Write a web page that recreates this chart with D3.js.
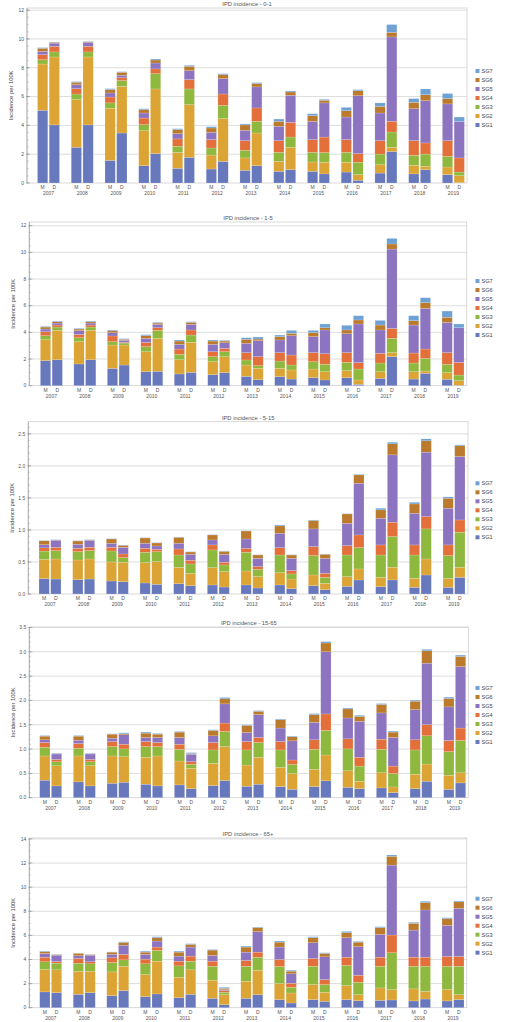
<!DOCTYPE html>
<html><head><meta charset="utf-8">
<script src="https://cdn.jsdelivr.net/npm/d3@7"></script>
<style>body{margin:0;background:#fff;} svg{display:block;font-family:"Liberation Sans",Arial,sans-serif;}</style>
</head><body><svg id="c" width="507" height="1022"></svg>
<script>
const years = [2007,2008,2009,2010,2011,2012,2013,2014,2015,2016,2017,2018,2019];
const sexes = ["M","D"];
const seriesNames = ["SG1","SG2","SG3","SG4","SG5","SG6","SG7"];
const seriesColors = ["#6878bc","#dca435","#8fb83e","#e3703a","#8c74c0","#bb7a2c","#6ea2d4"];
const panelTitles = ["IPD incidence - 0-1","IPD incidence - 1-5","IPD incidence - 5-15","IPD incidence - 15-65","IPD incidence - 65+"];
const yTickSteps = [2,2,0.5,0.5,2];
const yAxisLabel = "Incidence per 100K";

// order of each array: 2007 M, 2007 D, 2008 M, 2008 D, ... 2019 D
// Panel 1: age 0-1
const a01_SG1 = [5.05,4.03,2.48,4.03,1.57,3.47,1.20,2.04,1.02,1.78,0.97,1.50,0.88,1.20,0.81,0.93,0.81,0.63,0.76,0.19,0.69,2.18,0.63,0.93,0.58,0.02];
const a01_SG2 = [3.21,4.72,3.31,4.72,3.62,3.24,2.43,4.49,1.11,3.66,0.97,2.97,0.86,2.27,0.69,1.55,0.65,0.81,0.68,0.39,0.58,0.30,0.60,0.23,0.53,0.49];
const a01_SG3 = [0.30,0.35,0.39,0.35,0.37,0.40,0.42,1.06,0.42,1.09,0.49,0.92,0.53,0.81,0.63,0.71,0.67,0.67,0.69,0.86,0.74,1.06,0.69,0.85,0.74,0.25];
const a01_SG4 = [0.35,0.39,0.37,0.39,0.41,0.20,0.46,0.33,0.51,0.65,0.58,0.79,0.67,0.93,0.81,1.02,0.88,1.08,0.88,0.60,0.93,0.74,1.02,0.77,1.09,0.98];
const a01_SG5 = [0.23,0.22,0.28,0.28,0.28,0.17,0.35,0.41,0.37,0.62,0.51,1.07,0.72,1.46,1.00,1.88,1.27,2.37,1.57,4.02,1.92,5.86,2.22,2.94,2.55,2.54];
const a01_SG6 = [0.21,0.06,0.16,0.04,0.23,0.21,0.23,0.21,0.27,0.30,0.30,0.27,0.37,0.23,0.34,0.23,0.40,0.18,0.44,0.35,0.46,0.32,0.44,0.41,0.37,0.00];
const a01_SG7 = [0.05,0.02,0.05,0.02,0.07,0.04,0.07,0.07,0.07,0.07,0.09,0.07,0.07,0.07,0.16,0.07,0.13,0.07,0.23,0.07,0.24,0.54,0.26,0.40,0.35,0.30];
// Panel 2: age 1-5
const a15_SG1 = [1.88,1.95,1.63,1.95,1.30,1.55,1.05,1.08,0.88,1.00,0.83,0.98,0.70,0.45,0.68,0.50,0.60,0.43,0.60,0.10,0.55,2.18,0.50,0.93,0.48,0.03];
const a15_SG2 = [1.57,2.20,1.67,2.20,1.75,1.50,1.50,2.47,1.07,2.25,0.97,1.20,0.85,0.85,0.62,0.68,0.65,0.62,0.53,0.33,0.50,0.30,0.55,0.17,0.50,0.35];
const a15_SG3 = [0.30,0.25,0.30,0.25,0.25,0.15,0.38,0.60,0.40,0.55,0.38,0.37,0.38,0.20,0.55,0.37,0.55,0.55,0.62,0.82,0.65,1.07,0.65,0.95,0.62,0.42];
const a15_SG4 = [0.30,0.15,0.25,0.15,0.43,0.05,0.32,0.20,0.40,0.38,0.37,0.25,0.55,0.68,0.63,0.75,0.68,0.80,0.73,0.48,0.73,0.75,0.75,0.70,0.88,0.95];
const a15_SG5 = [0.20,0.15,0.28,0.15,0.25,0.15,0.30,0.25,0.35,0.42,0.55,0.42,0.70,1.20,0.95,1.45,1.20,1.78,1.42,2.90,1.75,5.95,2.10,3.05,2.27,2.60];
const a15_SG6 = [0.15,0.10,0.12,0.10,0.15,0.08,0.20,0.10,0.25,0.15,0.25,0.13,0.30,0.12,0.25,0.18,0.30,0.17,0.28,0.30,0.37,0.38,0.33,0.43,0.38,0.00];
const a15_SG7 = [0.05,0.05,0.05,0.05,0.05,0.05,0.08,0.05,0.08,0.05,0.08,0.05,0.12,0.15,0.12,0.22,0.17,0.28,0.35,0.32,0.35,0.42,0.37,0.37,0.47,0.28];
// Panel 3: age 5-15
const a515_SG1 = [.24,.234,.224,.234,.203,.193,.172,.151,.161,.13,.141,.109,.141,.094,.141,.083,.13,.068,.12,.219,.115,.219,.104,.297,.104,.26];
const a515_SG2 = [.30,.313,.307,.313,.297,.302,.318,.354,.256,.193,.27,.24,.218,.177,.192,.151,.167,.099,.151,.172,.145,.198,.141,.25,.141,.157];
const a515_SG3 = [.13,.13,.13,.13,.172,.073,.161,.156,.192,.146,.277,.104,.292,.114,.276,.079,.302,.093,.338,.333,.349,.479,.364,.469,.354,.547];
const a515_SG4 = [.05,.052,.053,.052,.057,.057,.063,.037,.094,.057,.078,.042,.063,.042,.115,.052,.141,.063,.146,.198,.157,.224,.157,.192,.167,.192];
const a515_SG5 = [.05,.11,.062,.11,.063,.104,.078,.052,.089,.094,.078,.125,.145,.13,.224,.192,.276,.234,.349,.807,.416,1.052,.494,1.006,.573,.99];
const a515_SG6 = [.06,.005,.052,.005,.067,.031,.083,.047,.093,.036,.078,.047,.125,.052,.115,.052,.13,.063,.146,.13,.131,.172,.146,.177,.156,.167];
const a515_SG7 = [.005,.005,.005,.005,.005,.005,.005,.005,.005,.005,.005,.005,.005,.005,.015,.005,.01,.005,.005,.01,.026,.026,.026,.031,.021,.015];
// Panel 4: age 15-65
const a1565_SG1 = [.36,.242,.325,.242,.297,.318,.277,.242,.263,.187,.249,.353,.235,.277,.228,.173,.228,.346,.214,.187,.201,.104,.187,.339,.173,.304];
const a1565_SG2 = [.498,.415,.533,.415,.561,.526,.553,.616,.491,.415,.456,.698,.436,.553,.394,.325,.353,.532,.339,.152,.311,.117,.297,.353,.29,.208];
const a1565_SG3 = [.179,.083,.159,.083,.193,.159,.221,.193,.242,.083,.277,.311,.311,.304,.36,.187,.415,.505,.45,.311,.484,.277,.498,.581,.484,.664];
const a1565_SG4 = [.097,.048,.096,.048,.104,.097,.104,.083,.104,.055,.152,.173,.173,.104,.173,.09,.194,.339,.207,.18,.207,.152,.208,.228,.229,.256];
const a1565_SG5 = [.056,.111,.07,.111,.069,.193,.083,.104,.138,.152,.138,.394,.187,.47,.277,.394,.359,1.279,.429,.74,.54,.588,.622,1.265,.691,1.265];
const a1565_SG6 = [.076,.005,.083,.005,.083,.021,.09,.069,.111,.014,.111,.104,.145,.069,.172,.083,.159,.18,.187,.104,.173,.111,.173,.256,.173,.208];
const a1565_SG7 = [.013,.01,.013,.01,.007,.021,.021,.014,.013,.021,.014,.028,.014,.014,.014,.014,.021,.028,.02,.02,.02,.02,.021,.028,.028,.027];
// Panel 5: age 65+
const a65_SG1 = [1.31,1.25,1.11,1.25,1.0,1.42,.92,1.14,.83,1.11,.78,.25,.78,1.08,.67,.39,.67,.53,.67,.58,.61,.64,.56,.72,.56,.67];
const a65_SG2 = [1.86,1.89,1.92,1.78,1.97,2.02,1.83,2.72,1.7,2.03,1.5,.83,1.41,2.03,1.33,.83,1.25,.75,1.16,.5,1.03,.86,1.0,.64,.94,.41];
const a65_SG3 = [.64,.55,.66,.61,.78,.53,.89,.89,.94,.72,1.16,.2,1.25,1.08,1.42,.47,1.52,.64,1.67,1.03,1.8,3.06,1.88,2.08,1.94,2.36];
const a65_SG4 = [.38,.14,.39,.17,.39,.45,.39,.28,.39,.42,.42,.14,.48,.42,.58,.34,.64,.41,.69,.58,.75,1.47,.75,.75,.81,.81];
const a65_SG5 = [.31,.53,.23,.55,.28,.77,.39,.5,.42,.75,.47,.08,.69,1.7,1.03,.78,1.31,1.89,1.62,2.37,1.89,5.8,2.25,3.92,2.58,4.0];
const a65_SG6 = [.14,.04,.20,.04,.19,.23,.19,.28,.33,.22,.45,.11,.42,.33,.41,.22,.42,.28,.41,.38,.56,.73,.56,.61,.56,.53];
const a65_SG7 = [.05,.02,.02,.02,.02,.05,.08,.08,.08,.06,.05,.08,.08,.05,.09,.08,.08,.06,.11,.06,.08,.11,.08,.11,.08,.08];

const panelSeries = [
  [a01_SG1,a01_SG2,a01_SG3,a01_SG4,a01_SG5,a01_SG6,a01_SG7],
  [a15_SG1,a15_SG2,a15_SG3,a15_SG4,a15_SG5,a15_SG6,a15_SG7],
  [a515_SG1,a515_SG2,a515_SG3,a515_SG4,a515_SG5,a515_SG6,a515_SG7],
  [a1565_SG1,a1565_SG2,a1565_SG3,a1565_SG4,a1565_SG5,a1565_SG6,a1565_SG7],
  [a65_SG1,a65_SG2,a65_SG3,a65_SG4,a65_SG5,a65_SG6,a65_SG7]
];

// layout (pixels)
const layout = [
  {top:8,     base:183,   left:27,   right:467,   ymax:12.15, c0:48.5, c1:453.4, legY:71},
  {top:222,   base:385.7, left:29.3, right:466.7, ymax:12.28, c0:51.4, c1:453.0, legY:281},
  {top:421.7, base:594,   left:28.3, right:468,   ymax:2.69,  c0:50.0, c1:454.0, legY:483.3},
  {top:627,   base:797.7, left:29.3, right:468.3, ymax:3.51,  c0:50.7, c1:454.7, legY:688},
  {top:838,   base:1007.7,left:29.3, right:466.7, ymax:14.08, c0:50.7, c1:453.0, legY:898.7}
];

const svg = d3.select("#c");
const txt = "#555";

layout.forEach((L, p) => {
  const g = svg.append("g");
  const rows = [];
  years.forEach((yr, i) => sexes.forEach((sx, j) => {
    const r = {year: yr, sex: sx};
    seriesNames.forEach((s, k) => r[s] = panelSeries[p][k][2*i + j]);
    rows.push(r);
  }));
  const stacked = d3.stack().keys(seriesNames)(rows);

  const y = d3.scaleLinear().domain([0, L.ymax]).range([L.base, L.top]);
  const step = (L.c1 - L.c0) / (years.length - 1);
  const x = d3.scaleBand().domain(years).range([L.c0 - step/2, L.c1 + step/2]).padding(0);
  const inner = d3.scaleBand().domain(sexes).range([0, 22]).paddingInner(0.12);
  const bx = d => x(d.data.year) + x.bandwidth()/2 - 11 + inner(d.data.sex);

  // grid
  const st = yTickSteps[p];
  const ticks = d3.range(0, L.ymax + 1e-9, st);
  g.selectAll("line.grid").data(ticks.filter(t => t > 0)).join("line")
    .attr("x1", L.left).attr("x2", L.right)
    .attr("y1", d => y(d)).attr("y2", d => y(d))
    .attr("stroke", "#d9d9d9").attr("stroke-width", 0.9);

  // frame
  g.append("rect").attr("x", L.left).attr("y", L.top)
    .attr("width", L.right - L.left).attr("height", L.base - L.top)
    .attr("fill", "none").attr("stroke", "#cfcfcf").attr("stroke-width", 0.8);

  // bars
  g.selectAll("g.s").data(stacked).join("g")
    .attr("fill", (d, k) => seriesColors[k])
    .selectAll("rect").data(d => d).join("rect")
    .attr("x", bx).attr("width", inner.bandwidth())
    .attr("y", d => y(d[1])).attr("height", d => Math.max(0, y(d[0]) - y(d[1])))
    .attr("stroke", "rgba(255,255,255,0.45)").attr("stroke-width", 0.35);

  // y axis
  const minor = st / (st === 2 ? 4 : 5);
  const minorTicks = d3.range(0, L.ymax + 1e-9, minor);
  g.append("line").attr("x1", L.left).attr("x2", L.left).attr("y1", L.top).attr("y2", L.base)
    .attr("stroke", "#999").attr("stroke-width", 0.7);
  g.selectAll("line.mt").data(minorTicks).join("line")
    .attr("x1", L.left).attr("x2", L.left + 1.5)
    .attr("y1", d => y(d)).attr("y2", d => y(d)).attr("stroke", "#999").attr("stroke-width", 0.5);
  g.selectAll("line.Mt").data(ticks).join("line")
    .attr("x1", L.left - 1).attr("x2", L.left + 3)
    .attr("y1", d => y(d)).attr("y2", d => y(d)).attr("stroke", "#888").attr("stroke-width", 0.6);
  g.selectAll("text.yt").data(ticks).join("text")
    .attr("x", L.left - 3).attr("y", d => y(d)).attr("dy", "0.35em")
    .attr("text-anchor", "end").attr("font-size", 5).attr("fill", txt)
    .text(d => st === 2 ? d3.format("d")(d) : d3.format(".1f")(d));
  g.append("text")
    .attr("transform", `translate(${L.left - 14.5},${(L.top + L.base)/2}) rotate(-90)`)
    .attr("text-anchor", "middle").attr("font-size", 5.8).attr("fill", "#444")
    .text(yAxisLabel);

  // x labels
  g.selectAll("text.sx").data(rows).join("text")
    .attr("x", d => x(d.year) + x.bandwidth()/2 - 11 + inner(d.sex) + inner.bandwidth()/2)
    .attr("y", L.base + 4.2).attr("dy", "0.35em")
    .attr("text-anchor", "middle").attr("font-size", 5).attr("fill", txt)
    .text(d => d.sex);
  g.selectAll("text.yr").data(years).join("text")
    .attr("x", d => x(d) + x.bandwidth()/2).attr("y", L.base + 10.3).attr("dy", "0.35em")
    .attr("text-anchor", "middle").attr("font-size", 5).attr("fill", txt)
    .text(d => d);

  // title
  g.append("text").attr("x", (L.left + L.right)/2).attr("y", L.top - 2.2)
    .attr("text-anchor", "middle").attr("font-size", 5.8).attr("fill", txt)
    .text(panelTitles[p]);

  // legend
  const leg = g.append("g");
  const order = seriesNames.map((s, k) => k).reverse();
  order.forEach((k, idx) => {
    const ly = L.legY + idx * 9;
    leg.append("rect").attr("x", 475.5).attr("y", ly - 2).attr("width", 4).attr("height", 4)
      .attr("fill", seriesColors[k]);
    leg.append("text").attr("x", 481.5).attr("y", ly).attr("dy", "0.35em")
      .attr("font-size", 5.6).attr("fill", "#444").text(seriesNames[k]);
  });
});
</script>
</body></html>
